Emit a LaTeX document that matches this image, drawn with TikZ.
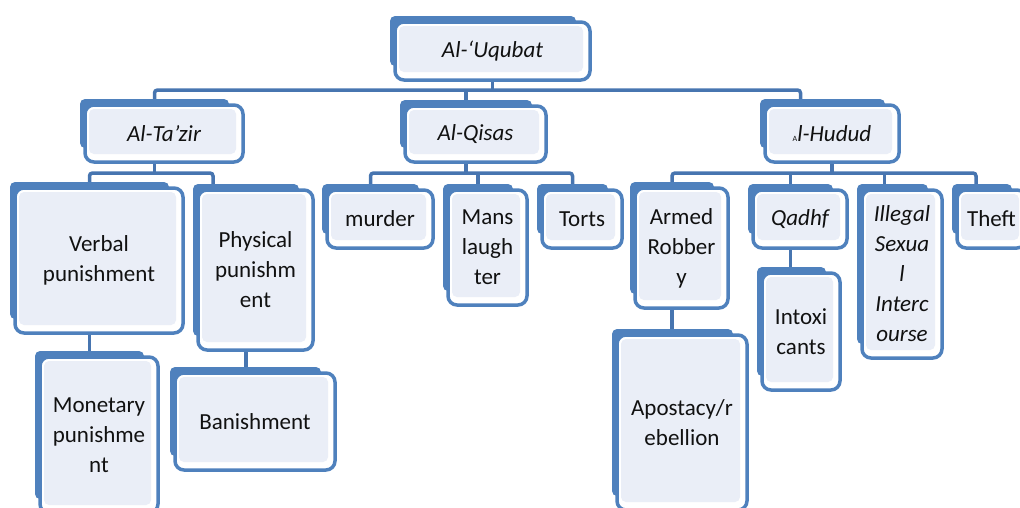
\documentclass[tikz,border=0pt]{standalone}
\usepackage{fontspec}
\setmainfont{Carlito}
\usetikzlibrary{backgrounds}
\definecolor{bblue}{HTML}{4F81BD}
\definecolor{cblue}{HTML}{4775B0}
\definecolor{lfill}{HTML}{EAEEF7}
\definecolor{txt}{HTML}{111111}
\tikzset{
 backbox/.style={fill=bblue, draw=none, rounded corners=5pt, inner sep=0pt, outer sep=0pt},
 frontbox/.style={draw=bblue, line width=3.5pt, fill=white, rounded corners=9pt, inner sep=0pt, outer sep=0pt,
   align=center, text=txt, font=\fontsize{23}{30}\selectfont,
   path picture={\fill[lfill, rounded corners=5pt] ([shift={(4pt,-4pt)}]path picture bounding box.north west) rectangle ([shift={(-7pt,8pt)}]path picture bounding box.south east);}},
 conn/.style={draw=cblue, line width=3.5pt, rounded corners=3pt},
}
% name, x1, y1, x2, y2, text
\newcommand\bx[6]{%
  \node[backbox, minimum width={(#4-#2-9)*1pt}, minimum height={(#5-#3-8)*1pt}] (#1b) at ({(#2+#4-19)/2},{(#3+#5-20)/2}) {};
  \node[frontbox, minimum width={(#4-#2)*1pt}, minimum height={(#5-#3)*1pt}] (#1) at ({(#2+#4)/2},{(#3+#5)/2}) {#6};
}
\begin{document}
\begin{tikzpicture}[x=1pt,y=-1pt]
\useasboundingbox (0,0) rectangle (1020,507);
% level 1 and 2
\bx{root}{395}{22}{590}{80}{\itshape Al-‘Uqubat}
\bx{tazir}{85}{105}{243}{162}{\itshape Al-Ta’zir}
\bx{qisas}{405}{106}{546}{162}{\itshape Al-Qisas}
\bx{hudud}{765}{105}{899}{162}{\itshape{\upshape\fontsize{8}{8}\selectfont A}l-Hudud}
% level 3
\bx{verbal}{15}{188}{183}{333}{Verbal\\punishment}
\bx{physical}{198}{190}{313}{350}{Physical\\punishm\\ent}
\bx{murder}{327}{190}{433}{248}{murder}
\bx{mans}{448}{190}{527}{305}{Mans\\laugh\\ter}
\bx{torts}{542}{190}{622}{248}{Torts}
\bx{armed}{635}{188}{728}{308}{Armed\\Robber\\y}
\bx{qadhf}{753}{190}{847}{248}{\itshape Qadhf}
\bx{illegal}{862}{190}{942}{358}{\itshape Illegal\\\itshape Sexua\\\itshape l\\\itshape Interc\\\itshape ourse}
\bx{theft}{957}{190}{1026}{248}{Theft}
% level 4
\bx{monetary}{40}{357}{158}{513}{Monetary\\punishme\\nt}
\bx{banish}{175}{373}{335}{470}{Banishment}
\bx{apost}{617}{335}{747}{510}{Apostacy/r\\ebellion}
\bx{intox}{762}{273}{840}{390}{Intoxi\\cants}
% connectors
\begin{scope}[on background layer]
  \coordinate (bus1) at (0,90);
  \coordinate (bus2) at (0,173);
  \coordinate (hdrop) at ([xshift=-22pt]hududb.north);
  \coordinate (pdrop) at ([xshift=-33pt]physicalb.north);
  \coordinate (ildrop) at ([xshift=-8pt]illegalb.north);
  \coordinate (thdrop) at ([xshift=-6pt]theftb.north);
  \draw[conn] (tazirb.north) -- (tazirb.north |- bus1) -- (hdrop |- bus1) -- (hdrop);
  \draw[conn] (root.south) -- (root.south |- bus1);
  \draw[conn] (qisasb.north) -- (qisasb.north |- bus1);
  % Al-Ta'zir
  \draw[conn] (verbalb.north) -- (verbalb.north |- bus2) -- (pdrop |- bus2) -- (pdrop);
  \draw[conn] (tazirb.south) -- (tazirb.south |- bus2);
  % Al-Qisas
  \draw[conn] (murderb.north) -- (murderb.north |- bus2) -- (tortsb.north |- bus2) -- (tortsb.north);
  \draw[conn] (qisasb.south) -- (qisasb.south |- bus2);
  \draw[conn] (mansb.north) -- (mansb.north |- bus2);
  % Al-Hudud
  \draw[conn] (armedb.north) -- (armedb.north |- bus2) -- (thdrop |- bus2) -- (thdrop);
  \draw[conn] (hudud.south) -- (hudud.south |- bus2);
  \draw[conn] (qadhfb.north) -- (qadhfb.north |- bus2);
  \draw[conn] (ildrop) -- (ildrop |- bus2);
  % level 3 to 4
  \draw[conn] (verbalb.south) -- (verbalb.south |- monetaryb.north);
  \draw[conn] (physicalb.south) -- (physicalb.south |- banishb.north);
  \draw[conn] (armedb.south) -- (armedb.south |- apostb.north);
  \draw[conn] (qadhfb.south) -- (qadhfb.south |- intoxb.north);
\end{scope}
\end{tikzpicture}
\end{document}
